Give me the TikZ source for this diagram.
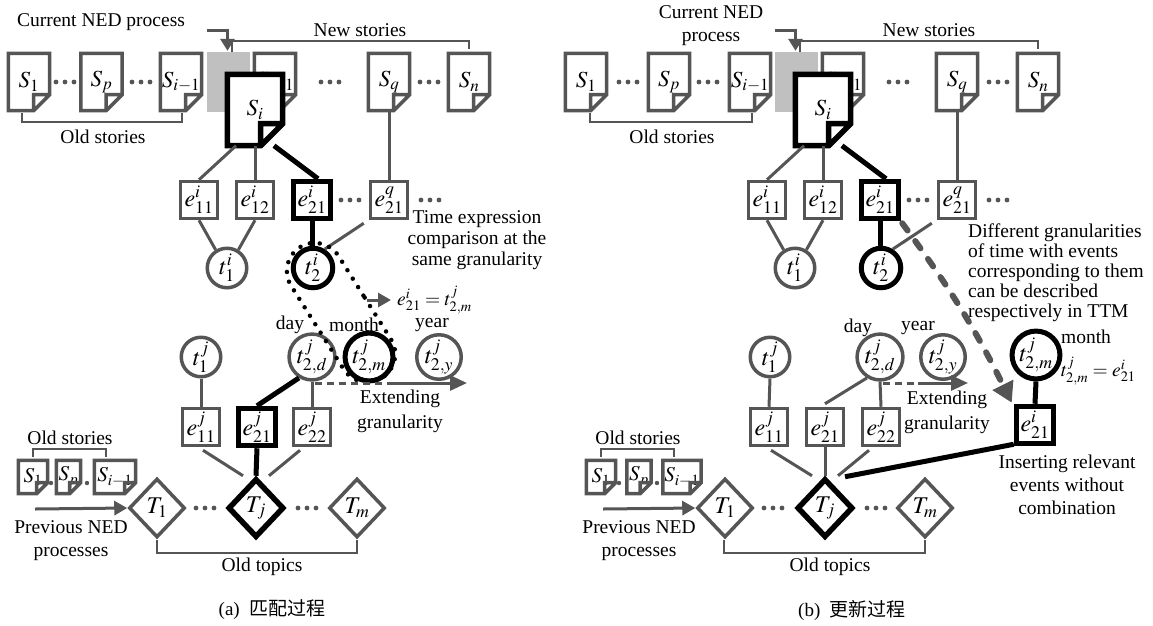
\documentclass[tikz,border=0pt]{standalone}
\usepackage{mathptmx}
\usepackage[no-math]{fontspec}
\setmainfont{Liberation Serif}
\newfontfamily\cjk{Noto Sans CJK SC}
\usetikzlibrary{arrows.meta,calc,shapes.geometric,shapes.misc}
\definecolor{dg}{HTML}{555555}
\definecolor{lg}{HTML}{C0C0C0}
\tikzset{
  txt/.style={font=\fontsize{19.5}{22}\selectfont, inner sep=0pt, text=black},
  docbox/.style={rectangle, fill=white, inner sep=0pt},
  gdoc/.style={draw=dg, line width=3.5pt, line join=miter},
  bdoc/.style={draw=black, line width=5.5pt, line join=miter},
  ebox/.style={rectangle, draw=dg, line width=3.5pt, fill=white, minimum size=37pt, inner sep=0pt, font=\fontsize{24}{26}\selectfont},
  bbox/.style={ebox, draw=black, line width=5.5pt},
  tcirc/.style={circle, draw=dg, line width=3.5pt, fill=white, minimum size=39.5pt, inner sep=0pt, font=\fontsize{24}{26}\selectfont},
  bcirc/.style={tcirc, draw=black, line width=5pt},
  tdiam/.style={diamond, draw=dg, line width=3.5pt, fill=white, minimum width=56pt, minimum height=59pt, inner sep=0pt, font=\fontsize{24}{26}\selectfont},
  bdiam/.style={tdiam, draw=black, line width=5.5pt},
  gline/.style={draw=dg, line width=3pt},
  bline/.style={draw=black, line width=5pt},
  brack/.style={draw=dg, line width=2pt},
  garrow/.style={draw=dg, line width=3pt, -{Triangle[length=13pt,width=14pt]}},
  gdash/.style={draw=dg, line width=3pt, dash pattern=on 7pt off 5pt},
  capsule/.style={rounded rectangle, draw=black, line width=4.5pt, line cap=round, dash pattern=on 0pt off 10pt},
  bigdash/.style={draw=dg, line width=6pt, line cap=round, dash pattern=on 9pt off 13pt},
  capt/.style={font=\fontsize{19}{21}\selectfont, inner sep=0pt}
}
% name, pos, label, width, height, style, fold, fontsize
\newcommand\docnode[8]{%
  \node[docbox, minimum width=#4pt, minimum height=#5pt, font=\fontsize{#8}{#8}\selectfont] (#1) at (#2) {#3};
  \draw[#6] (#1.north west) -- (#1.north east) -- ($(#1.south east)+(0,-#7)$) -- ($(#1.south east)+(-#7,0)$) -- (#1.south west) -- cycle
     ($(#1.south east)+(0,-#7)$) -- ($(#1.south east)+(-#7,-#7)$) -- ($(#1.south east)+(-#7,0)$);
}
\newcommand\tdots[1]{\foreach \dx in {-9,0,9}{\fill[dg] ($(#1)+(\dx,0)$) circle[radius=2.4];}}
\newcommand\onedot[1]{\fill[dg] (#1) circle[radius=2.2];}

\begin{document}
\begin{tikzpicture}[x=1pt,y=-1pt]
\useasboundingbox (0,0) rectangle (1153,625);

%%%%%%%%%%%%%%%%%%%% LEFT PANEL (a)
\node[txt] (curA) at (101,22) {Current NED process};
\docnode{s1A}{29,82}{$S_1$}{41}{57}{gdoc}{16}{23}
\tdots{65,82}
\docnode{spA}{101.5,82}{$S_p$}{41}{57}{gdoc}{16}{23}
\tdots{141,82}
\docnode{simA}{181,82}{$S_{i-1}$}{41}{57}{gdoc}{16}{23}
\node[fill=lg, minimum width=43pt, minimum height=60pt, inner sep=0pt] (slotA) at (228.5,82) {};
\docnode{sipA}{275,82}{$S_{i+1}$}{41}{57}{gdoc}{16}{23}
\docnode{siA}{255,110}{$S_i$}{55}{71}{bdoc}{22}{23}
\tdots{330,82}
\docnode{sqA}{389,82}{$S_q$}{41}{57}{gdoc}{16}{23}
\tdots{429,82}
\docnode{snA}{469,82}{$S_n$}{41}{57}{gdoc}{16}{23}
\draw[draw=dg, line width=3pt, -{Triangle[length=12pt,width=14pt]}] (207,30) -| ($(slotA.north)+(-1,-1)$);
\draw[brack] (232,52) -- (232,41) -- (469,41) -- (469,49);
\node[txt] (newA) at (360,30) {New stories};
\draw[brack] (22,113) -- (22,122) -- (182,122) -- (182,113);
\node[txt] (oldA) at (103,137) {Old stories};

% e^i row
\node[ebox] (e11A) at (199,200) {$e^{i}_{11}$};
\node[ebox] (e12A) at (255,200) {$e^{i}_{12}$};
\node[bbox] (e21A) at (312,200) {$e^{i}_{21}$};
\tdots{350,200}
\node[ebox] (eqA) at (389,200) {$e^{q}_{21}$};
\tdots{430,200}
\draw[gline] ($(siA.south)+(-19,0)$) -- (e11A.north);
\draw[gline] (siA.south) -- (e12A.north);
\draw[bline] ($(siA.south)+(19,0)$) -- ($(e21A.north)+(6,0)$);
\draw[gline] (sqA.south) -- (eqA.north);

% t^i row
\node[tcirc] (t1A) at (227,268) {$t^{i}_{1}$};
\node[bcirc] (t2A) at (313,268) {$t^{i}_{2}$};
\draw[gline] (e11A.south) -- (t1A.122);
\draw[gline] (e12A.south) -- (t1A.58);
\draw[bline] (e21A.south) -- (e21A.south |- t2A.north);
\draw[gline] ($(eqA.south west)+(-5,3)$) -- (t2A.58);

% text
\node[txt, align=center, font=\fontsize{19.5}{21}\selectfont] (cmpA) at (477,240) {Time expression\\comparison at the\\same granularity};

% t^j row
\node[txt] (dayA) at (290,325) {day};
\node[txt] (monA) at (354,325) {month};
\node[txt] (yearA) at (432,325) {year};
\node[tcirc] (t1jA) at (201,357) {$t^{j}_{1}$};
\node[tcirc] (t2djA) at (312,357) {$t^{j}_{2,d}$};
\node[bcirc] (t2mjA) at (369,357) {$t^{j}_{2,m}$};
\node[tcirc] (t2yjA) at (439,357) {$t^{j}_{2,y}$};

% capsule
\node[capsule, minimum width=161pt, minimum height=56pt, rotate=-57.8] (capA) at ($(t2A)!0.5!(t2mjA)$) {};
\draw[garrow] (367,300) -- (391,300) coordinate (eqarA);
\node[txt, anchor=west] (eqA2) at (397,300) {$e^{i}_{21}=t^{j}_{2,m}$};

% e^j row
\node[ebox] (e11jA) at (201,427) {$e^{j}_{11}$};
\node[bbox] (e21jA) at (257,427) {$e^{j}_{21}$};
\node[ebox] (e22jA) at (312,427) {$e^{j}_{22}$};
\draw[gline] (t1jA.south) -- (e11jA.north);
\draw[gline] (t2djA.south) -- (e22jA.north);
\draw[bline] (e21jA.north) -- (t2djA.-122);

% extending
\coordinate (xaA) at (315,383);
\coordinate (xbA) at (388,383);
\coordinate (xcA) at (467,383);
\draw[gdash] (xaA) -- (xbA);
\draw[draw=dg, line width=3pt, -{Triangle[length=17pt,width=15pt]}] (xbA) -- (xcA);
\node[txt, align=center, font=\fontsize{19.5}{25}\selectfont] (extA) at (400,411) {Extending\\granularity};

% T row
\node[tdiam] (T1A) at (157,508) {$T_1$};
\node[bdiam] (TjA) at (256,508) {$T_j$};
\node[tdiam] (TmA) at (357,508) {$T_m$};
\tdots{205,508}
\tdots{307,508}
\draw[gline] ($(e11jA.south)+(2,3)$) -- ($(TjA.north)+(-13,0)$);
\draw[bline] (e21jA.south) -- (TjA.north);
\draw[gline] ($(e22jA.south)+(-12,3)$) -- ($(TjA.north)+(13,0)$);
\draw[brack] (157,540) -- (157,553) -- (357,553) -- (357,540);
\node[txt] (otA) at (262,567) {Old topics};

% bottom-left
\node[txt] (osA) at (70,438) {Old stories};
\draw[brack] (33,457) -- (33,449) -- (106,449) -- (106,457);
\docnode{ss1A}{33,477}{$S_1$}{29}{33}{gdoc}{11}{21}
\onedot{51,483}
\docnode{sspA}{68.5,477}{$S_p$}{24}{33}{gdoc}{11}{21}
\onedot{87,483}
\docnode{ssiA}{115,477}{$S_{i-1}$}{41}{33}{gdoc}{11}{21}
\coordinate (pA) at (35,509);
\draw[garrow] (pA) -- (T1A.west);
\node[txt, align=center, font=\fontsize{19.5}{23}\selectfont] (prevA) at (71,541) {Previous NED\\processes};
\node[capt] (capa) at (272,610) {(a)\ \ {\cjk 匹配过程}};

%%%%%%%%%%%%%%%%%%%% RIGHT PANEL (b)
\node[txt, align=center, font=\fontsize{19.5}{23}\selectfont] (curB) at (711,26) {Current NED\\process};
\docnode{s1B}{586,82}{$S_1$}{41}{57}{gdoc}{16}{23}
\tdots{628,82}
\docnode{spB}{669,82}{$S_p$}{41}{57}{gdoc}{16}{23}
\tdots{708,82}
\docnode{simB}{750,82}{$S_{i-1}$}{41}{57}{gdoc}{16}{23}
\node[fill=lg, minimum width=43pt, minimum height=60pt, inner sep=0pt] (slotB) at (796.5,82) {};
\docnode{sipB}{843,82}{$S_{i+1}$}{41}{57}{gdoc}{16}{23}
\docnode{siB}{823,110}{$S_i$}{55}{71}{bdoc}{22}{23}
\tdots{898,82}
\docnode{sqB}{957,82}{$S_q$}{41}{57}{gdoc}{16}{23}
\tdots{998,82}
\docnode{snB}{1038,82}{$S_n$}{41}{57}{gdoc}{16}{23}
\draw[draw=dg, line width=3pt, -{Triangle[length=12pt,width=14pt]}] (775,30) -| ($(slotB.north)+(-1,-1)$);
\draw[brack] (800,52) -- (800,41) -- (1038,41) -- (1038,49);
\node[txt] (newB) at (929,30) {New stories};
\draw[brack] (590,113) -- (590,122) -- (752,122) -- (752,113);
\node[txt] (oldB) at (672,137) {Old stories};

\node[ebox] (e11B) at (767,200) {$e^{i}_{11}$};
\node[ebox] (e12B) at (823,200) {$e^{i}_{12}$};
\node[bbox] (e21B) at (880,200) {$e^{i}_{21}$};
\tdots{918,200}
\node[ebox] (eqB) at (957,200) {$e^{q}_{21}$};
\tdots{998,200}
\draw[gline] ($(siB.south)+(-19,0)$) -- (e11B.north);
\draw[gline] (siB.south) -- (e12B.north);
\draw[bline] ($(siB.south)+(19,0)$) -- ($(e21B.north)+(6,0)$);
\draw[gline] (sqB.south) -- (eqB.north);

\node[tcirc] (t1B) at (795,268) {$t^{i}_{1}$};
\node[bcirc] (t2B) at (881,268) {$t^{i}_{2}$};
\draw[gline] (e11B.south) -- (t1B.122);
\draw[gline] (e12B.south) -- (t1B.58);
\draw[bline] (e21B.south) -- (e21B.south |- t2B.north);
\draw[gline] ($(eqB.south west)+(-5,3)$) -- (t2B.58);

\node[txt, align=left, anchor=north west, font=\fontsize{19.5}{20}\selectfont] (difB) at (968,224) {Different granularities\\of time with events\\corresponding to them\\can be described\\respectively in TTM};

\node[txt] (dayB) at (858,328) {day};
\node[txt] (yearB) at (918,328) {year};
\node[tcirc] (t1jB) at (770,357) {$t^{j}_{1}$};
\node[tcirc] (t2djB) at (880,357) {$t^{j}_{2,d}$};
\node[tcirc] (t2yjB) at (943,357) {$t^{j}_{2,y}$};
\node[txt] (monB) at (1086,337) {month};
\node[bcirc] (t2mjB) at (1036,355) {$t^{j}_{2,m}$};
\node[txt, anchor=west] (eqB2) at (1061,371) {$t^{j}_{2,m}=e^{i}_{21}$};

\node[ebox] (e11jB) at (769,427) {$e^{j}_{11}$};
\node[ebox] (e21jB) at (825,427) {$e^{j}_{21}$};
\node[ebox] (e22jB) at (881,427) {$e^{j}_{22}$};
\draw[gline] (t1jB.south) -- (e11jB.north);
\draw[gline] (t2djB.south) -- (e22jB.north);
\draw[gline] ($(e21jB.north)+(0,-3)$) -- (t2djB.-122);

\coordinate (xaB) at (883,383);
\coordinate (xbB) at (918,383);
\coordinate (xcB) at (968,383);
\draw[gdash] (xaB) -- (xbB);
\draw[draw=dg, line width=3pt, -{Triangle[length=17pt,width=15pt]}] (xbB) -- (xcB);
\node[txt, align=center, font=\fontsize{19.5}{25}\selectfont] (extB) at (947,412) {Extending\\granularity};

\node[bbox] (newe) at (1035,425) {$e^{i}_{21}$};
\draw[bline] (t2mjB.south) -- (newe.north);
\draw[bigdash, -{Triangle[length=20pt,width=22pt]}] ($(e21B.south east)+(1,2)$) to[bend left=5] ($(newe.north west)+(-2,-1)$);
\node[txt, align=center, font=\fontsize{19.5}{23}\selectfont] (insB) at (1067,485) {Inserting relevant\\events without\\combination};

\node[tdiam] (T1B) at (725,508) {$T_1$};
\node[bdiam] (TjB) at (825,508) {$T_j$};
\node[tdiam] (TmB) at (925,508) {$T_m$};
\tdots{773,508}
\tdots{876,508}
\draw[gline] ($(e11jB.south)+(2,3)$) -- ($(TjB.north)+(-13,0)$);
\draw[gline] (e21jB.south) -- (TjB.north);
\draw[gline] ($(e22jB.south)+(-12,3)$) -- ($(TjB.north)+(13,0)$);
\draw[bline] ($(TjB.north)+(20,1)$) -- ($(newe.south west)+(0,-2)$);
\draw[brack] (724,540) -- (724,553) -- (925,553) -- (925,540);
\node[txt] (otB) at (830,567) {Old topics};

\node[txt] (osB) at (638,438) {Old stories};
\draw[brack] (601,457) -- (601,449) -- (674,449) -- (674,457);
\docnode{ss1B}{601,477}{$S_1$}{29}{33}{gdoc}{11}{21}
\onedot{619,483}
\docnode{sspB}{639,477}{$S_p$}{24}{33}{gdoc}{11}{21}
\onedot{657,483}
\docnode{ssiB}{682,477}{$S_{i-1}$}{38}{33}{gdoc}{11}{21}
\coordinate (pB) at (603,509);
\draw[garrow] (pB) -- (T1B.west);
\node[txt, align=center, font=\fontsize{19.5}{23}\selectfont] (prevB) at (639,541) {Previous NED\\processes};
\node[capt] (capb) at (852,610) {(b)\ \ {\cjk 更新过程}};
\end{tikzpicture}
\end{document}
